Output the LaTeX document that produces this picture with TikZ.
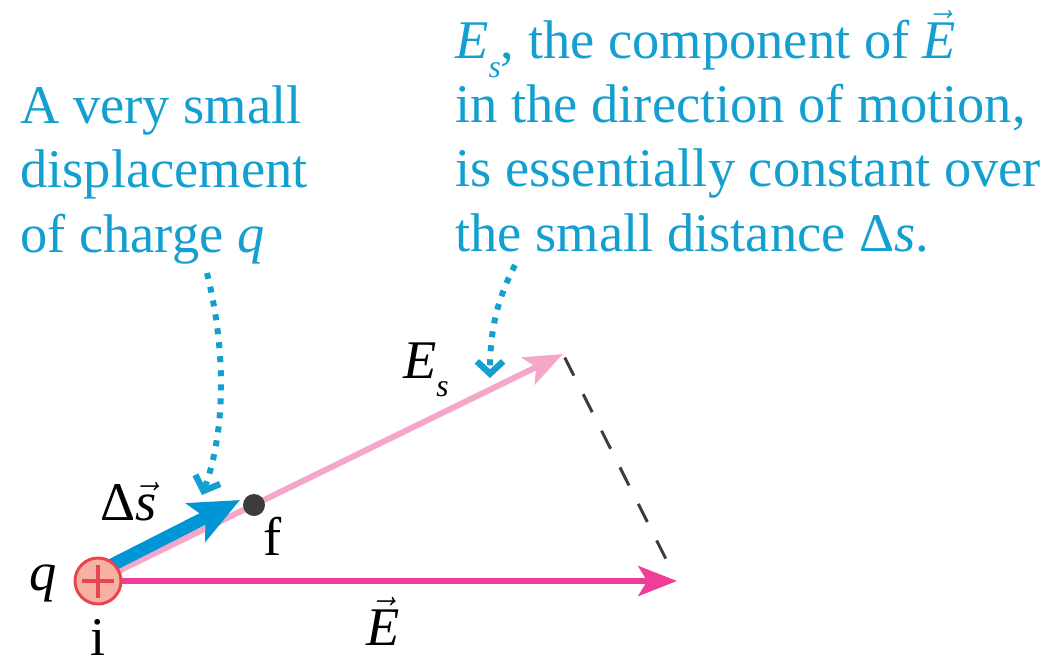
\documentclass[tikz,border=0pt]{standalone}
\usepackage{fontspec}
\setmainfont{Liberation Serif}
\usepackage{tikz}
\usetikzlibrary{arrows.meta,positioning,calc}
\definecolor{calloutblue}{HTML}{139FD0}
\definecolor{dsblue}{HTML}{0096D6}
\definecolor{fieldpink}{HTML}{EE3E9A}
\definecolor{compink}{HTML}{F4A7C9}
\definecolor{chargefill}{HTML}{F6B1A3}
\definecolor{chargered}{HTML}{E8464F}
\definecolor{dotgray}{HTML}{3C3C3C}
\newcommand{\subs}[1]{\raisebox{-10.5pt}{\fontsize{18}{18}\selectfont\itshape #1}}
\newcommand{\Esub}{\textit{E}\subs{s}}
\newcommand{\vecE}{$\vec{\mbox{\itshape E}}$}

\begin{document}
\begin{tikzpicture}[
  x=0.02cm,y=-0.02cm,
  callout/.style={text=calloutblue,font=\fontsize{31}{36.5}\selectfont,align=left,inner sep=0pt},
  lbl/.style={font=\fontsize{31}{36.5}\selectfont,inner sep=0pt,anchor=base},
  fieldvec/.style={draw=fieldpink,line width=3.4pt,-{Stealth[length=22pt,width=17pt,inset=5pt]}},
  compvec/.style={draw=compink,line width=3.4pt,-{Stealth[length=22pt,width=17pt,inset=5pt]}},
  dsvec/.style={draw=dsblue,line width=7.4pt,-{Stealth[length=28pt,width=24pt,inset=6pt]}},
  pointer/.style={draw=calloutblue,line width=3.4pt,dash pattern=on 3.4pt off 4.6pt,-{Straight Barb[length=7pt,width=15pt,line width=3.6pt]}},
  projline/.style={draw=dotgray,line width=1.7pt,dash pattern=on 11.5pt off 11.8pt},
  charge/.style={circle,draw=chargered,line width=1.7pt,fill=chargefill,minimum size=0.92cm,inner sep=0pt},
]
\useasboundingbox (0,0) rectangle (1058,660);
\coordinate (i) at (98,581);
\coordinate (f) at (254,505);
\coordinate (Etip) at (677,581);
\coordinate (Estip) at (563,354);
\draw[fieldvec] (i) -- (Etip);
\draw[compvec] (i) -- (Estip);
\draw[projline,shorten <=0.08cm,shorten >=0.22cm] (Estip) -- (Etip);
\draw[dsvec] ([xshift=0.04cm,yshift=0.2cm]i) -- ([xshift=-0.28cm,yshift=0.1cm]f);
\node[charge] (qdot) at (i) {};
\draw[chargered,line width=2.8pt] ([xshift=-0.33cm]qdot.center) -- ([xshift=0.33cm]qdot.center);
\draw[chargered,line width=2.8pt] ([yshift=-0.33cm]qdot.center) -- ([yshift=0.33cm]qdot.center);
\node[circle,fill=dotgray,minimum size=0.44cm,inner sep=0pt] (fdot) at (f) {};

\node[lbl] (qlbl) at (43,590) {\textit{q}};
\node[lbl] (ilbl) at (98,655) {i};
\node[lbl] (flbl) at (273,555) {f};
\node[lbl] (dslbl) at (129,520) {Δ$\vec{\mbox{\itshape s}}$};
\node[lbl] (eslbl) at (426,378) {\Esub};
\node[lbl] (elbl) at (383,645) {\vecE};

\node[callout,anchor=base west] (disp) at (20,252) {A very small\\displacement\\of charge \textit{q}};
\node[callout,anchor=base west] (comp) at (455,251) {\Esub, the component of \vecE\\in the direction of motion,\\is essentially constant over\\the small distance Δ\textit{s}.};

\coordinate (dispfrom) at (207,273);
\coordinate (dispto) at (202,495);
\coordinate (compfrom) at (515,265);
\coordinate (compto) at (490,378);
\draw[pointer] (dispfrom) .. controls (226,350) and (226,430) .. (dispto);
\draw[pointer] (compfrom) .. controls (497,300) and (490,330) .. (compto);
\end{tikzpicture}
\end{document}
